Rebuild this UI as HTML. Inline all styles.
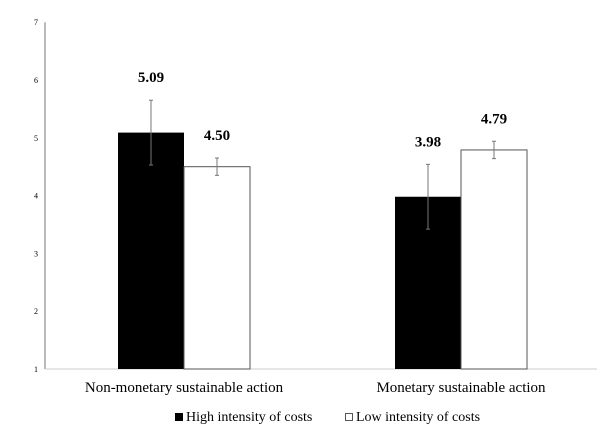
<!DOCTYPE html>
<html><head><meta charset="utf-8"><style>
body{margin:0;background:#fff;}
svg{display:block;font-family:"Liberation Serif",serif;}
</style></head><body>
<svg id="chart" width="612" height="428">
<g id="axes"></g><g id="bars"></g>
<g>
<rect x="175" y="413" width="8" height="8" fill="#000"/>
<text x="186" y="421" font-size="14">High intensity of costs</text>
<rect x="345.5" y="413.5" width="7" height="7" fill="#fff" stroke="#555"/>
<text x="356" y="421" font-size="14">Low intensity of costs</text>
</g>
</svg>
<script>
const categories=["Non-monetary sustainable action","Monetary sustainable action"];
const highValues=[5.09,3.98];
const lowValues=[4.50,4.79];
const highErr=[0.56,0.56];
const lowErr=[0.15,0.15];
const yTicks=[1,2,3,4,5,6,7];
const NS="http://www.w3.org/2000/svg";
const y0=369,unit=57.8,x0=45,xEnd=597;
const yS=v=>y0-(v-1)*unit;
const centers=[184,461],bw=66;
function mk(tag,attrs,parent){const e=document.createElementNS(NS,tag);for(const k in attrs)e.setAttribute(k,attrs[k]);parent.appendChild(e);return e;}
const ax=document.getElementById('axes'),bg=document.getElementById('bars');
let l=mk('line',{x1:x0,y1:yS(7),x2:x0,y2:y0,stroke:'#777'},ax);


l=mk('line',{x1:x0,y1:y0,x2:xEnd,y2:y0,stroke:'#ccc'},ax);


yTicks.forEach(t=>{const e=mk('text',{x:36,y:yS(t)+3,'font-size':8,'text-anchor':'middle'},ax);e.textContent=t;

});
categories.forEach((c,i)=>{const e=mk('text',{x:centers[i],y:392,'font-size':15,'text-anchor':'middle'},ax);e.textContent=c;

});
function series(vals,errs,fill,dx,name){vals.forEach((v,i)=>{
const x=centers[i]+dx;
const r=mk('rect',{x:x,y:yS(v),width:bw,height:y0-yS(v),fill:fill,stroke:fill=='#000'?'none':'#555'},bg);


const cx=x+bw/2,t=yS(v+errs[i]),b=yS(v-errs[i]);
const eb=mk('path',{d:`M${cx},${t}V${b}M${cx-2},${t}H${cx+2}M${cx-2},${b}H${cx+2}`,stroke:'#777',fill:'none'},bg);


const tx=mk('text',{x:cx,y:Math.min(yS(v),t)-18,'font-size':15,'font-weight':'bold','text-anchor':'middle'},bg);
tx.textContent=v.toFixed(2);


});}
series(highValues,highErr,'#000',-bw,'high');
series(lowValues,lowErr,'#fff',0,'low');
</script>
</body></html>
